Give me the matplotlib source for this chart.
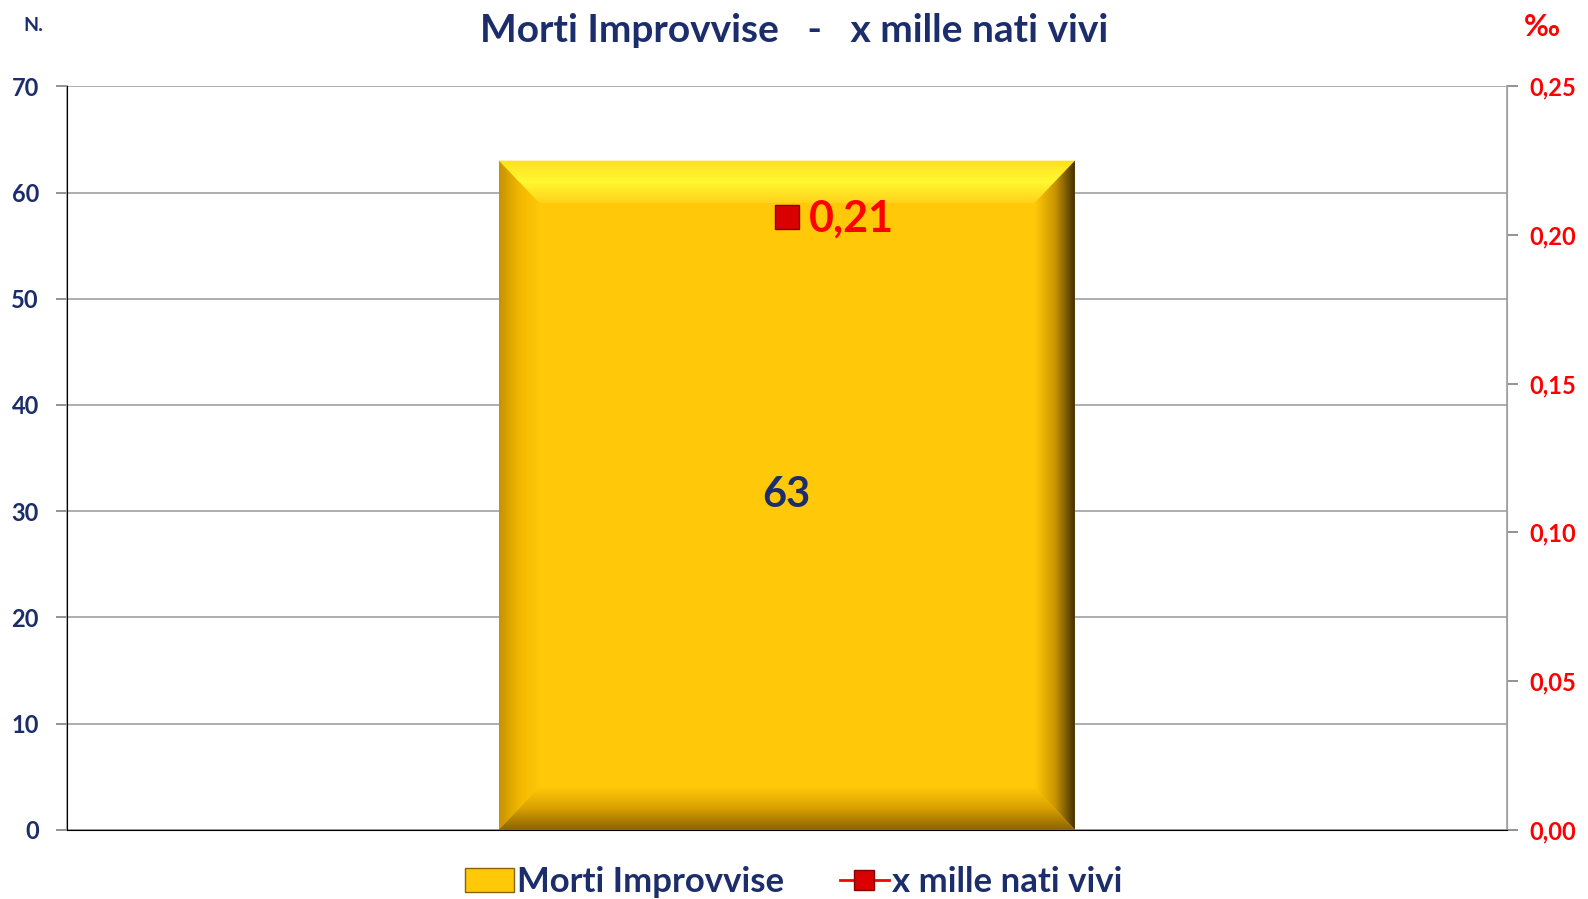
import matplotlib
matplotlib.use("Agg")
import numpy as np
import matplotlib.pyplot as plt
from matplotlib.colors import LinearSegmentedColormap
from matplotlib.patches import Polygon, Patch
from matplotlib.lines import Line2D

plt.rcParams["font.family"] = ["Lato", "DejaVu Sans"]
plt.rcParams["font.weight"] = "bold"

NAVY = "#1c2d6b"
RED = "#ff0000"

categories = [""]
morti = [63]
per_mille = [0.206]
left_ticks = [0, 10, 20, 30, 40, 50, 60, 70]
right_ticks = [0.00, 0.05, 0.10, 0.15, 0.20, 0.25]


def gradient_face(ax, pts, extent, colors, vertical):
    """Fill polygon pts with a linear gradient (outer -> inner colours)."""
    cmap = LinearSegmentedColormap.from_list("g", colors)
    g = np.linspace(0, 1, 128)
    img = g[:, None] if vertical else g[None, :]
    im = ax.imshow(img, cmap=cmap, extent=extent, origin="lower",
                   aspect="auto", interpolation="bicubic", zorder=3)
    poly = Polygon(pts, closed=True, facecolor="none", edgecolor="none")
    ax.add_patch(poly)
    im.set_clip_path(poly)


def add_bevel(ax, bar, frac_x=0.07, frac_y=0.057):
    """Fake Excel bevel on the bar edges."""
    x0, y0 = bar.get_x(), bar.get_y()
    x1, y1 = x0 + bar.get_width(), y0 + bar.get_height()
    dx = bar.get_width() * frac_x
    dy = ax.get_ylim()[1] * frac_y
    # top: outer gold -> bright yellow
    gradient_face(ax, [(x0, y1), (x1, y1), (x1 - dx, y1 - dy), (x0 + dx, y1 - dy)],
                  (x0, x1, y1 - dy, y1), ["#ffd21a", "#fff830", "#ffe020"], True)
    # left: darker gold -> body
    gradient_face(ax, [(x0, y0), (x0, y1), (x0 + dx, y1 - dy), (x0 + dx, y0 + dy)],
                  (x0, x0 + dx, y0, y1), ["#c89200", "#f2b800", "#ffc808"], False)
    # right: body -> dark brown rim
    gradient_face(ax, [(x1, y0), (x1, y1), (x1 - dx, y1 - dy), (x1 - dx, y0 + dy)],
                  (x1 - dx, x1, y0, y1), ["#ffc808", "#c89400", "#3a2a00"], False)
    # bottom: dark brown -> body
    gradient_face(ax, [(x0, y0), (x1, y0), (x1 - dx, y0 + dy), (x0 + dx, y0 + dy)],
                  (x0, x1, y0, y0 + dy), ["#8a6400", "#d8a000", "#ffc808"], True)


fig = plt.figure(figsize=(15.88, 8.99), dpi=100)
ax = fig.add_axes([0.042, 0.077, 0.907, 0.827])

xs = list(range(len(categories)))
ax.set_xlim(-0.5, 0.5)
ax.set_ylim(0, 70)
bars = ax.bar(xs, morti, width=0.4, color="#ffc808", zorder=2)
for b in bars:
    add_bevel(ax, b)
ax.set_xlim(-0.5, 0.5)
ax.set_ylim(0, 70)
for x, v in zip(xs, morti):
    ax.text(x, v / 2, str(v), ha="center", va="center", fontsize=30,
            color=NAVY, fontweight="bold", zorder=5)

ax.set_yticks(left_ticks)
ax.set_xticks([])
ax.grid(axis="y", color="#a0a0a0", linewidth=1.2, zorder=0)
ax.tick_params(axis="y", colors="#808080", labelcolor=NAVY, labelsize=17,
               length=8, width=1.2, pad=12)
for s in ["left", "bottom", "right", "top"]:
    ax.spines[s].set_color("#a0a0a0")
    ax.spines[s].set_linewidth(1.2)
ax.spines["top"].set_visible(False)

ax2 = ax.twinx()
ax2.set_ylim(0, 0.25)
ax2.set_yticks(right_ticks)
ax2.set_yticklabels([f"{t:.2f}".replace(".", ",") for t in right_ticks])
ax2.tick_params(axis="y", colors="#808080", labelcolor=RED, labelsize=17,
                length=8, width=1.2, pad=8)
ax2.spines["top"].set_visible(False)
ax2.spines["right"].set_color("#a0a0a0")
ax2.plot(xs, per_mille, color=RED, marker="s", markersize=17,
         markerfacecolor="#d80000", markeredgecolor="#8b0000", linewidth=2, zorder=6)
for x, v in zip(xs, per_mille):
    ax2.annotate(f"{v:.2f}".replace(".", ","), (x, v), xytext=(16, -1),
                 textcoords="offset points", ha="left", va="center",
                 fontsize=31, color=RED, fontweight="bold")

fig.text(0.5, 0.966, "Morti Improvvise   -   x mille nati vivi", ha="center",
         va="center", fontsize=28, color=NAVY, fontweight="bold")
fig.text(0.021, 0.972, "N.", ha="center", va="center", fontsize=14,
         color=NAVY, fontweight="bold")
fig.text(0.971, 0.97, "‰", ha="center", va="center", fontsize=22,
         color=RED, fontweight="bold")

handles = [Patch(facecolor="#ffc808", edgecolor="#8a6400"),
           Line2D([], [], color=RED, marker="s", markersize=15,
                  markerfacecolor="#d80000", markeredgecolor="#8b0000", linewidth=2)]
fig.legend(handles, ["Morti Improvvise", "x mille nati vivi"], loc="lower center",
           bbox_to_anchor=(0.5, -0.034), ncol=2, frameon=False, fontsize=25,
           labelcolor=NAVY, handlelength=1.4, handletextpad=0.1, columnspacing=1.6)

fig.savefig("out.png", dpi=100, facecolor="white")
